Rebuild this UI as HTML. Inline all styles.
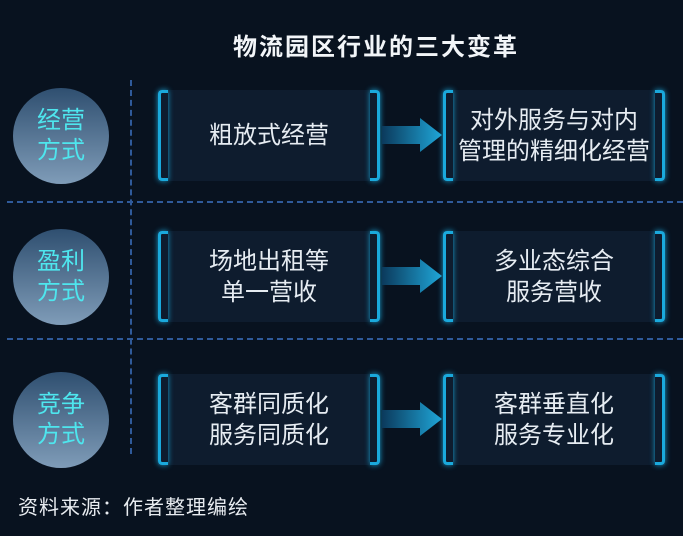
<!DOCTYPE html>
<html><head><meta charset="utf-8"><style>
body{margin:0;width:683px;height:536px;background:#08121f;position:relative;overflow:hidden;font-family:"Liberation Sans","Noto Sans CJK SC",sans-serif;color:#e8eef4}
.t{position:absolute;left:233px;top:27px;font-size:24px;letter-spacing:2px;font-weight:bold;color:#f2f5f8;white-space:nowrap}
.c{position:absolute;left:13px;width:96px;height:96px;border-radius:50%;background:linear-gradient(#2f4f70,#7f9cb8);color:#4ee6ee;font-size:24px;line-height:30px;text-align:center;display:flex;align-items:center;justify-content:center}
.b{position:absolute;width:222px;height:91px;background:#0e1c2e;display:flex;align-items:center;justify-content:center;text-align:center;font-size:24px;line-height:31px;color:#e6ecf2;white-space:nowrap}
.b:before,.b:after{content:"";position:absolute;top:0;bottom:0;width:7px;border:3px solid #1aa9dc;box-shadow:0 0 6px #1a9fd0}
.b:before{left:0;border-right:none;border-radius:4px 0 0 4px}
.b:after{right:0;border-left:none;border-radius:0 4px 4px 0}
.a{position:absolute;left:382px;width:60px;height:34px}
.hl{position:absolute;left:7px;right:0;border-top:2px dashed #2f5a9a}
.vl{position:absolute;left:130px;top:80px;height:374px;border-left:2px dashed #2f5a9a}
.s{position:absolute;left:18px;top:491px;font-size:20px;letter-spacing:1px;color:#e8ecf0;white-space:nowrap}
</style></head><body>
<div class="t">物流园区行业的三大变革</div>
<div class="vl"></div>
<div class="hl" style="top:201px"></div>
<div class="hl" style="top:338px"></div>
<div class="c" style="top:88px">经营<br>方式</div>
<div class="c" style="top:229px">盈利<br>方式</div>
<div class="c" style="top:372px">竞争<br>方式</div>
<div class="b" style="left:158px;top:90px">粗放式经营</div>
<div class="b" style="left:443px;top:90px">对外服务与对内<br>管理的精细化经营</div>
<div class="b" style="left:158px;top:231px">场地出租等<br>单一营收</div>
<div class="b" style="left:443px;top:231px">多业态综合<br>服务营收</div>
<div class="b" style="left:158px;top:374px">客群同质化<br>服务同质化</div>
<div class="b" style="left:443px;top:374px">客群垂直化<br>服务专业化</div>
<svg class="a" style="top:118px" viewBox="0 0 60 34"><defs><linearGradient id="g" x1="0" x2="1"><stop offset="0" stop-color="#0b3a5c"/><stop offset="1" stop-color="#1fa6d8"/></linearGradient></defs><polygon points="0,8 38,8 38,0 60,17 38,34 38,26 0,26" fill="url(#g)"/></svg>
<svg class="a" style="top:259px" viewBox="0 0 60 34"><polygon points="0,8 38,8 38,0 60,17 38,34 38,26 0,26" fill="url(#g)"/></svg>
<svg class="a" style="top:402px" viewBox="0 0 60 34"><polygon points="0,8 38,8 38,0 60,17 38,34 38,26 0,26" fill="url(#g)"/></svg>
<div class="s">资料来源：作者整理编绘</div>
</body></html>
